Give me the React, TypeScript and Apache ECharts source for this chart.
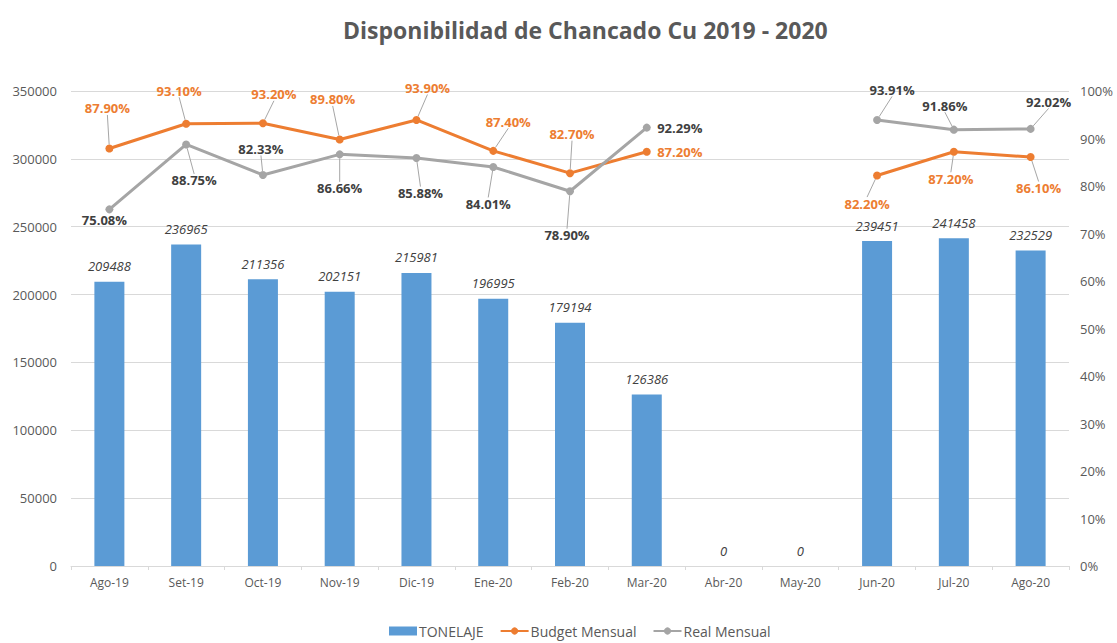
import React, { useEffect, useRef } from "react";
import * as echarts from "echarts";

const categories = ["Ago-19", "Set-19", "Oct-19", "Nov-19", "Dic-19", "Ene-20", "Feb-20", "Mar-20", "Abr-20", "May-20", "Jun-20", "Jul-20", "Ago-20"];
const tonelaje = [209488, 236965, 211356, 202151, 215981, 196995, 179194, 126386, 0, 0, 239451, 241458, 232529];
const budget: (number | null)[] = [87.9, 93.1, 93.2, 89.8, 93.9, 87.4, 82.7, 87.2, null, null, 82.2, 87.2, 86.1];
const real: (number | null)[] = [75.08, 88.75, 82.33, 86.66, 85.88, 84.01, 78.9, 92.29, null, null, 93.91, 91.86, 92.02];

// label offsets (dx, dy) from each point, as placed in the reference
const budgetOffsets: [number, number][] = [[-2, -40], [-7, -33], [11, -29], [-7, -40], [11, -32], [15, -29], [2, -39], [33, 0], [0, 0], [0, 0], [-10, 28], [-3, 27], [8, 31]];
const realOffsets: [number, number][] = [[-5, 11], [8, 36], [-2, -26], [0, 34], [4, 35], [-5, 37], [-3, 44], [33, 0], [0, 0], [0, 0], [15, -30], [-9, -24], [18, -27]];
const budgetNoLine = [7];
const realNoLine = [0, 7];

const FONT = "Open Sans";

export default function App() {
  const ref = useRef<HTMLDivElement>(null);
  useEffect(() => {
    if (!ref.current) return;
    const chart = echarts.init(ref.current, undefined, { renderer: "svg" });
    const mkData = (vals: (number | null)[], noLine: number[]) =>
      vals.map((v, i) => ({ value: v === null ? "-" : v, labelLine: { show: !noLine.includes(i) } }));
    const offsets = [null, budgetOffsets, realOffsets];
    chart.setOption({
      animation: false,
      textStyle: { fontFamily: FONT },
      title: {
        text: "Disponibilidad de Chancado Cu 2019 - 2020",
        left: 338,
        top: 13,
        textStyle: { fontFamily: FONT, fontSize: 23, fontWeight: "bold", color: "#595959" },
      },
      legend: {
        top: 619,
        left: 384,
        itemWidth: 28,
        itemHeight: 9,
        itemGap: 16,
        textStyle: { fontFamily: FONT, fontSize: 14, color: "#595959", padding: [0, 0, 0, -3] },
        data: [
          { name: "TONELAJE", icon: "rect" },
          { name: "Budget Mensual" },
          { name: "Real Mensual" },
        ],
      },
      grid: { left: 71, right: 48, top: 91, bottom: 77, containLabel: false },
      xAxis: {
        type: "category",
        data: categories,
        boundaryGap: true,
        axisLine: { lineStyle: { color: "#D9D9D9" } },
        axisTick: { show: true, length: 4, lineStyle: { color: "#D9D9D9" } },
        axisLabel: { fontFamily: FONT, fontSize: 12, color: "#595959", margin: 10 },
      },
      yAxis: [
        {
          type: "value",
          min: 0,
          max: 350000,
          interval: 50000,
          axisLine: { show: false },
          axisTick: { show: false },
          splitLine: { lineStyle: { color: "#D9D9D9" } },
          axisLabel: { fontFamily: FONT, fontSize: 13, color: "#595959", margin: 14, formatter: (v: number) => String(v) },
        },
        {
          type: "value",
          min: 0,
          max: 100,
          interval: 10,
          axisLine: { show: false },
          axisTick: { show: false },
          splitLine: { show: false },
          axisLabel: { fontFamily: FONT, fontSize: 13, color: "#595959", margin: 11, formatter: "{value}%" },
        },
      ],
      series: [
        {
          name: "TONELAJE",
          type: "bar",
          data: tonelaje,
          barWidth: 30,
          itemStyle: { color: "#5B9BD5" },
          label: {
            show: true,
            position: "top",
            distance: 9,
            fontFamily: FONT,
            fontSize: 13,
            fontStyle: "italic",
            color: "#404040",
          },
        },
        {
          name: "Budget Mensual",
          type: "line",
          yAxisIndex: 1,
          data: mkData(budget, budgetNoLine),
          connectNulls: false,
          symbol: "circle",
          symbolSize: 8,
          lineStyle: { color: "#ED7D31", width: 3 },
          itemStyle: { color: "#ED7D31" },
          z: 3,
          label: {
            show: true,
            position: "inside",
            fontFamily: FONT,
            fontSize: 13,
            fontWeight: "bold",
            color: "#ED7D31",
            formatter: (p: any) => Number(p.value).toFixed(2) + "%",
          },
          labelLine: { show: true, lineStyle: { color: "#A6A6A6", width: 1 } },
        },
        {
          name: "Real Mensual",
          type: "line",
          yAxisIndex: 1,
          data: mkData(real, realNoLine),
          connectNulls: false,
          symbol: "circle",
          symbolSize: 8,
          lineStyle: { color: "#A5A5A5", width: 3 },
          itemStyle: { color: "#A5A5A5" },
          z: 3,
          label: {
            show: true,
            position: "inside",
            fontFamily: FONT,
            fontSize: 13,
            fontWeight: "bold",
            color: "#404040",
            formatter: (p: any) => Number(p.value).toFixed(2) + "%",
          },
          labelLine: { show: true, lineStyle: { color: "#A6A6A6", width: 1 } },
        },
      ],
      labelLayout: (params: any) => {
        const offs = offsets[params.seriesIndex];
        if (!offs) return {};
        const o = offs[params.dataIndex];
        return { dx: o[0], dy: o[1] };
      },
    });
    return () => chart.dispose();
  }, []);
  return <div ref={ref} style={{ position: "fixed", left: 0, top: 0, width: 1117, height: 643, background: "#fff" }} />;
}
